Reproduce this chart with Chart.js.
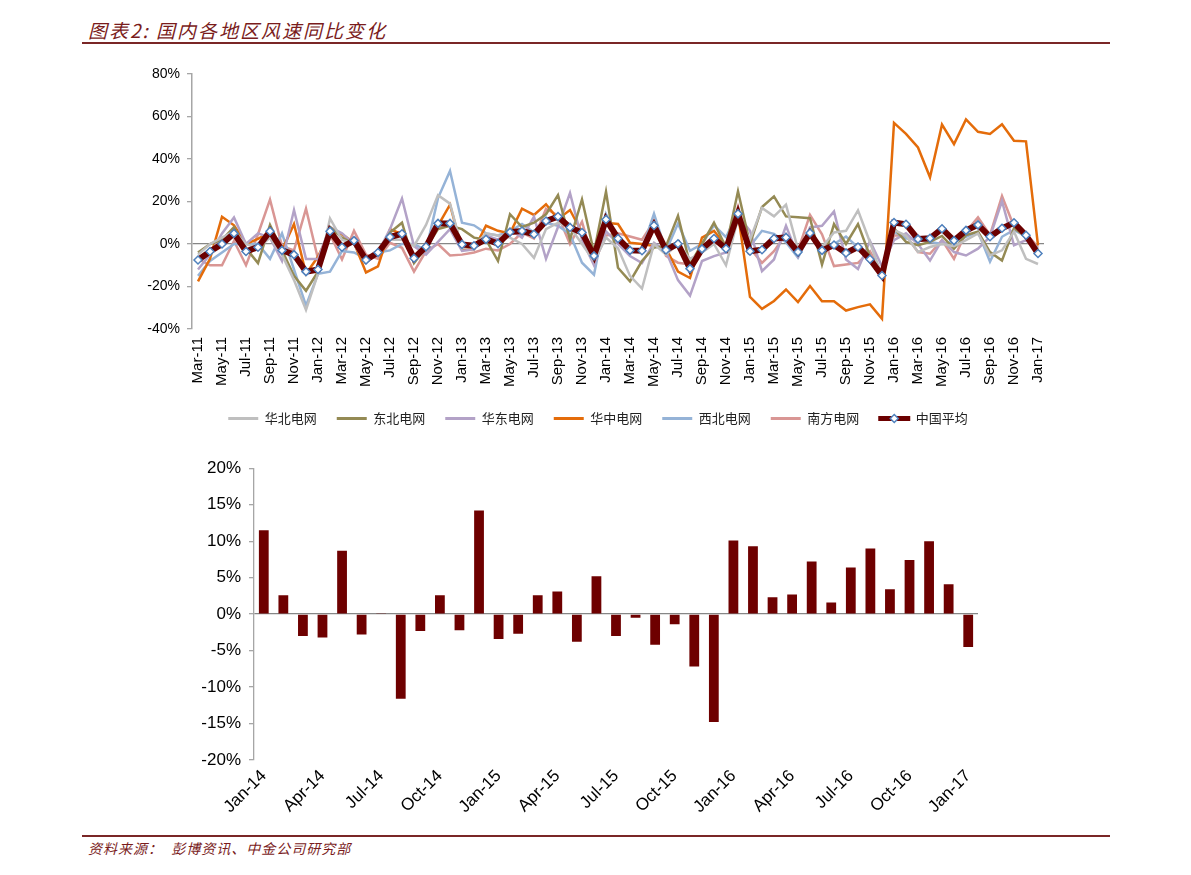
<!DOCTYPE html>
<html>
<head>
<meta charset="utf-8">
<script src="https://cdn.jsdelivr.net/npm/chart.js@4.4.1/dist/chart.umd.min.js"></script>
<style>
  body { margin: 0; background: #fff; width: 1191px; height: 875px; position: relative; overflow: hidden; }
  .title { position: absolute; left: 88px; top: 16px; font: italic 19px "Noto Sans CJK SC", sans-serif; letter-spacing: 2px; color: #7A1C1C; }
  .rule { position: absolute; left: 82px; width: 1028px; height: 2px; background: #7A2626; }
  .source { position: absolute; left: 88px; top: 838px; font: italic 14px "Noto Sans CJK SC", sans-serif; letter-spacing: 1px; color: #7A1C1C; white-space: pre; }
  canvas { position: absolute; }
</style>
</head>
<body>
<div class="title">图表2: 国内各地区风速同比变化</div>
<div class="rule" style="top:42px"></div>
<canvas id="lineChart" style="left:110px;top:58px" width="1016" height="377"></canvas>
<canvas id="barChart" style="left:150px;top:450px" width="850" height="380"></canvas>
<div class="rule" style="top:835px"></div>
<div class="source">资料来源：  彭博资讯、中金公司研究部</div>

<script>
// months Mar-11 .. Jan-17
const months = [
  'Mar-11','Apr-11','May-11','Jun-11','Jul-11','Aug-11','Sep-11','Oct-11','Nov-11','Dec-11',
  'Jan-12','Feb-12','Mar-12','Apr-12','May-12','Jun-12','Jul-12','Aug-12','Sep-12','Oct-12','Nov-12','Dec-12',
  'Jan-13','Feb-13','Mar-13','Apr-13','May-13','Jun-13','Jul-13','Aug-13','Sep-13','Oct-13','Nov-13','Dec-13',
  'Jan-14','Feb-14','Mar-14','Apr-14','May-14','Jun-14','Jul-14','Aug-14','Sep-14','Oct-14','Nov-14','Dec-14',
  'Jan-15','Feb-15','Mar-15','Apr-15','May-15','Jun-15','Jul-15','Aug-15','Sep-15','Oct-15','Nov-15','Dec-15',
  'Jan-16','Feb-16','Mar-16','Apr-16','May-16','Jun-16','Jul-16','Aug-16','Sep-16','Oct-16','Nov-16','Dec-16',
  'Jan-17'
];

const seriesNames = ['华北电网', '东北电网', '华东电网', '华中电网', '西北电网', '南方电网', '中国平均'];
const seriesColors = ['#BFBFBF', '#948A54', '#B3A2C7', '#E46C0A', '#95B3D7', '#D99694', '#6B0000'];

// 同比变化 (%)
const north = [
  -5, 0, 3, 6, 0, -2, 3, -5, -17, -31, -14, 12,
  2, 0, -9, -4, 2, 2, -1, 9, 23, 19, -2, -1,
  5, 4, 3, 0, -6.5, 7, 10, 8, 0, -8, 3, -2,
  -15, -21, 0, -5, 0, -7, -4, 0, -10, 12, 2, 17,
  13, 18.5, -2.5, 4, -1.5, 5.4, 6.2, 15.8, 0.8, -15.3, 6.6, 4,
  -3.8, -1.4, 0, -1, 1.8, 5, -5.4, -3, 5.8, -7, -9.4
];
const northeast = [
  -4, 0, 2, 8, -2, -9, 9, -3, -15, -22, -13, 8,
  3, 0, -6.5, -4, 5.4, 10, -9, -1.8, 7, 8.6, 7, 3,
  2, -8, 14, 8, 10, 14, 23, 2, 21, -4, 24.6, -11.2,
  -17.6, -8, -1.6, -1, 13.3, -9.6, 0, 10, -1.5, 24.8, 0, 17.4,
  22.4, 13, 12.6, 12.1, -9.7, 9.4, 0, 9.4, -5.7, -14, 7.4, 1,
  -0.6, 1, 3.8, -2.2, 4.2, 5.8, -3.8, -7.8, 7.4, 3.4, -3
];
const east = [
  -12, -5, 5, 12.5, 0, 5, 3, -8, 16, -7, -7, 8,
  5, 0, -9, -4, 7, 21.4, -1, -5, 1, 7, -3.3, -2.5,
  4, 2, 7, 3, 12.8, -7, 8, 24, 2, -10, 6, 0,
  -5.7, -9, 0.6, -3.4, -17, -24.3, -8, -5.7, -4, 13.4, 6.2, -12.8,
  -7.3, 8.6, -5.7, 7.8, 8.6, 15.3, -7.3, -11.8, 1.4, -10.5, 1.8, 5,
  0, -7.8, 1.8, -3.8, -5.4, -2.2, 3.4, 20.2, -0.6, 1.8, -3.8
];
const central = [
  -17.6, -7, 12.8, 8.8, 0, 2.4, 5.6, -3, 9.4, -14, -6, 6,
  4.6, 0.6, -13.4, -10.5, 7, 4.6, -8, -1.7, 8.6, 18.5, -2.5, -2.5,
  8.6, 6.2, 5, 16.6, 13.7, 18.7, 11.8, 16, 5.4, -8, 10, 9.4,
  0.6, 0, -1, -2, -13, -16, 3, 6.2, -1, 14.2, -24.9, -30.5,
  -26.8, -21.4, -27.3, -19.8, -26.9, -26.9, -31.3, -29.7, -28.4, -35.2, 57, 51.8,
  45.4, 31.4, 56.2, 47, 58.6, 52.8, 51.8, 56.3, 48.6, 48.3, -0.6
];
const northwest = [
  -15, -8, -4, 0, 0, 0, -7, 5, -12, -29, -14, -13,
  -3.3, -4, -7, -4, -3, 0, 0, -3, 21.6, 34.4, 10, 8.8,
  5, 4, 6, 9.4, 5.4, 10, 8.6, 4.6, -8.8, -14.4, 14, 2.2,
  -2.5, -2.5, 14.2, -3.3, 9.6, -3.2, 0, 8.8, 3.2, 15, -1, 6.2,
  4.8, 0.8, -6.4, 4.8, -1.6, 0, 3.5, -1.6, -7.3, -14.5, 5.8, 2.6,
  2.6, 1, 0, 1, 3.4, 5.8, -8.3, 3.4, 6.6, 3.4, -2.2
];
const south = [
  -7, -10, -10, 1.4, -10, 4.6, 20.9, -1, -3, 16.6, -7, 4.6,
  -7.3, 6.2, -5, -7, 0.6, -1.8, -13, -3.3, 0, -5.4, -5, -4,
  -2.2, -3, 0, 5.4, 2.6, 16.6, 13.4, 0, 10.5, -9, 4, 5,
  3.5, 2, 10.7, -5.6, -8.8, -9.6, -3, 0.8, -1.5, 17.6, -2, -8.9,
  -3.4, 4.6, -3, 13.7, 4.6, -10.4, -9.7, -8.9, -3.4, -13.6, 4, 4,
  -3.8, -4.6, 1.8, -7, 5.8, 12.5, 4.2, 22.6, 8.2, 5, -1.4
];
// 中国平均: Mar-11 .. Dec-13
const avgEarly = [
  -7.5, -3.5, 0, 5, -3.5, -1.5, 6, -3, -5, -13, -12, 6,
  -1.5, 1.6, -7.5, -4, 3.3, 4.8, -6.7, -1.3, 9.7, 9.7, -0.2, -0.8,
  2.2, 0.2, 5.6, 6.1, 4.6, 10.8, 12.9, 7.8, 5.4, -5.6
];
// 中国平均: Jan-14 .. Jan-17 (lower bar chart)
const barMonths = months.slice(34);
const barValues = [
  11.5, 2.6, -3.0, -3.2, 8.7, -2.8, 0.1, -11.6, -2.3, 2.6, -2.2, 14.2,
  -3.4, -2.7, 2.6, 3.1, -3.8, 5.2, -3.0, -0.5, -4.2, -1.4, -7.2, -14.8,
  10.1, 9.3, 2.3, 2.7, 7.2, 1.6, 6.4, 9.0, 3.4, 7.4, 10.0, 4.1, -4.5
];
const average = avgEarly.concat(barValues);

Chart.defaults.font.family = '"Liberation Sans", Arial, sans-serif';
Chart.defaults.color = '#000';
Chart.defaults.animation = false;

const regionSeries = [north, northeast, east, central, northwest, south, average];

const lineDatasets = regionSeries.map((vals, i) => {
  const isAvg = i === 6;
  return {
    label: seriesNames[i],
    data: vals,
    borderColor: seriesColors[i],
    backgroundColor: seriesColors[i],
    borderWidth: isAvg ? 6 : 2.5,
    pointRadius: isAvg ? 4 : 0,
    pointStyle: 'rectRot',
    pointBackgroundColor: '#fff',
    pointBorderColor: '#4F81BD',
    pointBorderWidth: 1.5,
    tension: 0,
    order: isAvg ? 0 : 1
  };
});

// nudge the legend row right, and put a diamond on the 中国平均 sample
const legendTweak = {
  id: 'legendTweak',
  afterLayout(chart) {
    const lg = chart.legend;
    if (!lg) return;
    lg.left += 21;
    lg.right += 21;
  },
  afterDraw(chart) {
    const boxes = chart.legend && chart.legend.legendHitBoxes;
    if (!boxes || !boxes[6]) return;
    const b = boxes[6];
    const cx = b.left + 15, cy = b.top + b.height / 2, r = 4;
    const ctx = chart.ctx;
    ctx.save();
    ctx.beginPath();
    ctx.moveTo(cx, cy - r);
    ctx.lineTo(cx + r, cy);
    ctx.lineTo(cx, cy + r);
    ctx.lineTo(cx - r, cy);
    ctx.closePath();
    ctx.fillStyle = '#fff';
    ctx.fill();
    ctx.lineWidth = 1.5;
    ctx.strokeStyle = '#4F81BD';
    ctx.stroke();
    ctx.restore();
  }
};

new Chart(document.getElementById('lineChart'), {
  type: 'line',
  data: { labels: months, datasets: lineDatasets },
  options: {
    responsive: false,
    layout: { padding: { top: 16, right: 82, bottom: 0, left: 0 } },
    plugins: {
      tooltip: { enabled: false },
      legend: {
        position: 'bottom',
        labels: {
          boxWidth: 30,
          boxHeight: 3,
          padding: 20,
          color: '#222',
          font: { family: '"Noto Sans CJK SC", sans-serif', size: 13 },
          generateLabels(chart) {
            return chart.data.datasets.map((ds, i) => ({
              text: ds.label,
              fillStyle: ds.borderColor,
              strokeStyle: ds.borderColor,
              lineWidth: i === 6 ? 2 : 0,
              hidden: false,
              datasetIndex: i,
              fontColor: '#222'
            }));
          }
        }
      }
    },
    scales: {
      x: {
        offset: true,
        grid: { display: false, drawTicks: false },
        border: { display: false },
        ticks: {
          autoSkip: false, minRotation: 90, maxRotation: 90, padding: 8,
          font: { size: 15 },
          callback: (v, i) => (i % 2 === 0 ? months[i] : '')
        },
        afterFit: (scale) => { scale.height = 63; }
      },
      y: {
        min: -40, max: 80,
        ticks: { stepSize: 20, padding: 7, font: { size: 14 }, callback: (v) => v + '%' },
        grid: {
          color: (c) => (c.tick && c.tick.value === 0 ? '#868686' : 'rgba(0,0,0,0)'),
          lineWidth: 1.3,
          tickLength: 5,
          tickColor: '#A6A6A6'
        },
        border: { color: '#A6A6A6', width: 1.5 },
        afterFit: (scale) => { scale.width = 82; }
      }
    }
  },
  plugins: [legendTweak]
});

new Chart(document.getElementById('barChart'), {
  type: 'bar',
  data: {
    labels: barMonths,
    datasets: [{
      label: seriesNames[6],
      data: barValues,
      backgroundColor: '#6E0000',
      categoryPercentage: 1,
      barPercentage: 0.5
    }]
  },
  options: {
    responsive: false,
    layout: { padding: { top: 17, right: 22, bottom: 0, left: 0 } },
    plugins: { legend: { display: false }, tooltip: { enabled: false } },
    scales: {
      x: {
        offset: true,
        grid: { display: false, drawTicks: false },
        border: { display: false },
        ticks: {
          autoSkip: false, minRotation: 45, maxRotation: 45, padding: 6,
          font: { size: 17 },
          callback: (v, i) => (i % 3 === 0 ? barMonths[i] : '')
        },
        afterFit: (scale) => { scale.height = 70; }
      },
      y: {
        min: -20, max: 20,
        ticks: { stepSize: 5, padding: 8, font: { size: 17 }, callback: (v) => v + '%' },
        grid: {
          color: (c) => (c.tick && c.tick.value === 0 ? '#868686' : 'rgba(0,0,0,0)'),
          lineWidth: 1.3,
          tickLength: 5,
          tickColor: '#A6A6A6'
        },
        border: { color: '#A6A6A6', width: 1.3 },
        afterFit: (scale) => { scale.width = 104; }
      }
    }
  }
});
</script>
</body>
</html>
